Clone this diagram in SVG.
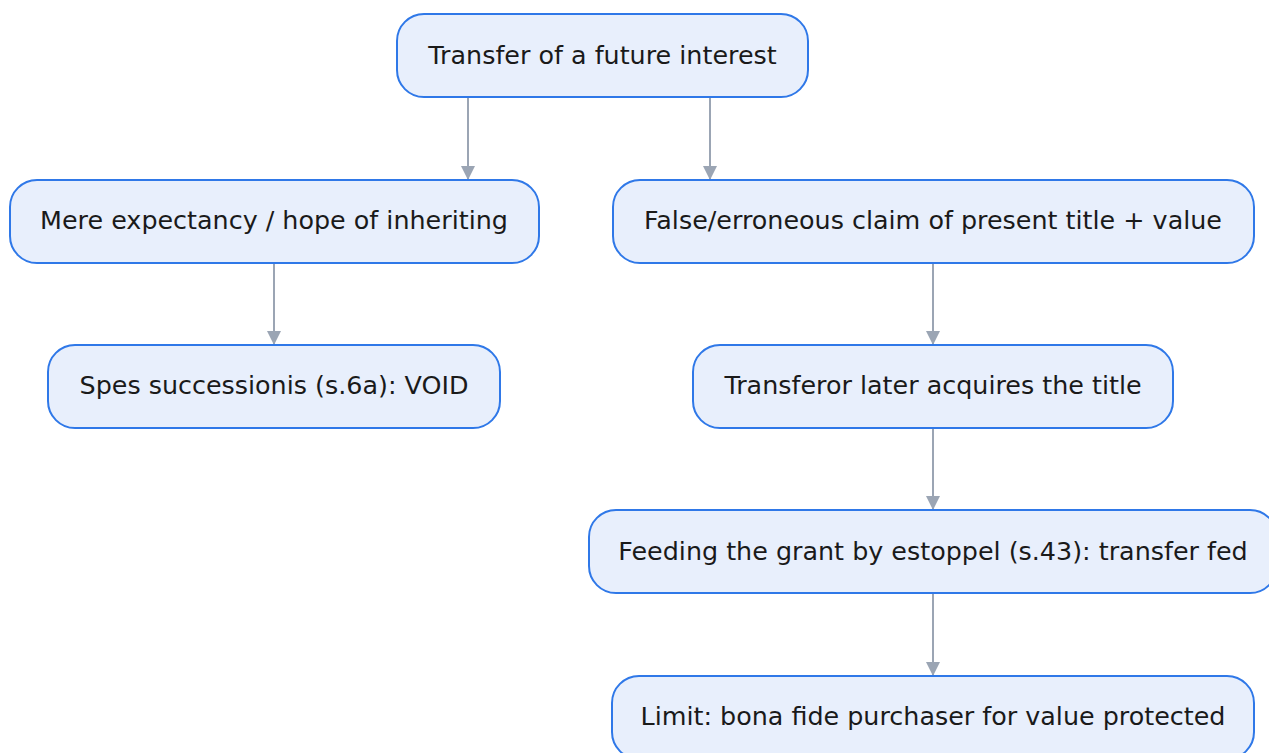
<svg xmlns="http://www.w3.org/2000/svg" width="1269" height="753" viewBox="0 0 1269 753">
<style>
.node rect{fill:#e8effc;stroke:#2f78e8;stroke-width:2}
.node text{font-family:"DejaVu Sans",sans-serif;font-size:25.4px;fill:#1a1a1a;text-anchor:middle;dominant-baseline:central}
.edge{stroke:#9ba5b4;stroke-width:2;fill:none}
</style>
<defs>
<marker id="ah" viewBox="0 0 14 16" refX="14" refY="8" markerWidth="14" markerHeight="16" markerUnits="userSpaceOnUse" orient="auto">
<path d="M0,1 L14,8 L0,15 Z" fill="#9ba5b4"/>
</marker>
</defs>
<rect width="1269" height="753" fill="#ffffff"/>
<g id="edges">
<path class="edge" d="M468,97 V180" marker-end="url(#ah)"/>
<path class="edge" d="M710,97 V180" marker-end="url(#ah)"/>
<path class="edge" d="M274,263 V345" marker-end="url(#ah)"/>
<path class="edge" d="M933,263 V345" marker-end="url(#ah)"/>
<path class="edge" d="M933,428 V510" marker-end="url(#ah)"/>
<path class="edge" d="M933,593 V676" marker-end="url(#ah)"/>
</g>
<g id="n1" class="node"><rect x="397" y="14" width="411" height="83" rx="27"/><text x="602.5" y="54.5">Transfer of a future interest</text></g>
<g id="n2" class="node"><rect x="10" y="180" width="529" height="83" rx="27"/><text x="274" y="219.5">Mere expectancy / hope of inheriting</text></g>
<g id="n3" class="node"><rect x="613" y="180" width="641" height="83" rx="27"/><text x="933" y="219.5">False/erroneous claim of present title + value</text></g>
<g id="n4" class="node"><rect x="48" y="345" width="452" height="83" rx="27"/><text x="274" y="385">Spes successionis (s.6a): VOID</text></g>
<g id="n5" class="node"><rect x="693" y="345" width="480" height="83" rx="27"/><text x="933" y="385">Transferor later acquires the title</text></g>
<g id="n6" class="node"><rect x="589" y="510" width="688" height="83" rx="27"/><text x="933" y="550.5">Feeding the grant by estoppel (s.43): transfer fed</text></g>
<g id="n7" class="node"><rect x="612" y="676" width="642" height="83" rx="27"/><text x="933" y="715.5">Limit: bona fide purchaser for value protected</text></g>
</svg>
